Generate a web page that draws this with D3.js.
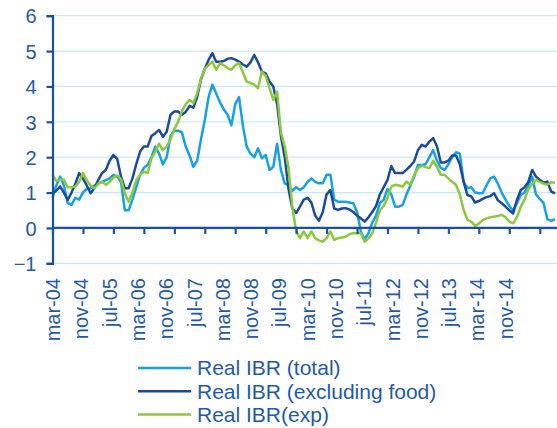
<!DOCTYPE html>
<html>
<head>
<meta charset="utf-8">
<script src="https://cdn.jsdelivr.net/npm/d3@7"></script>
<style>
  body { margin: 0; background: #fff; }
  svg { display: block; font-family: "Liberation Sans", Arial, sans-serif; }
  .grid line { stroke: #cbe8f7; stroke-width: 1.3; }
  .axis path, .axis line { stroke: #1c4f9f; stroke-width: 2.2; }
  .axis text { fill: #1f5aa8; font-size: 20px; }
  .series { fill: none; stroke-width: 2.5; stroke-linejoin: round; }
  .legend text { fill: #1f5aa8; font-size: 21px; }
</style>
</head>
<body>
<svg id="chart" width="557" height="428"></svg>
<script>
// monthly, mar-04 .. mar-15
var startMonth = new Date(2004, 2, 1);

var realTotal = [
  0.85, 1.2, 1.45, 1.2, 0.7, 0.65, 0.85, 0.8, 1.0, 1.1,
  1.12, 1.2, 1.25, 1.3, 1.35, 1.4, 1.5, 1.45, 1.3, 0.5,
  0.5, 0.8, 1.15, 1.5, 1.7, 1.78, 2.0, 2.3, 2.1, 1.8,
  2.0, 2.6, 2.75, 2.75, 2.7, 2.3, 2.05, 1.73, 1.9, 2.5,
  3.05, 3.7, 4.05, 3.8, 3.55, 3.35, 3.2, 2.9, 3.5, 3.7,
  2.9, 2.3, 2.1, 2.0, 2.25, 1.97, 2.06, 1.64, 1.73, 2.38,
  1.64, 1.26, 1.2, 1.05, 1.15, 1.07, 1.15, 1.3, 1.4, 1.3,
  1.26, 1.26, 1.5, 1.5, 0.8, 0.74, 0.74, 0.74, 0.72, 0.7,
  0.45, -0.1, -0.32, -0.15, 0.15, 0.35, 0.7, 0.8, 1.1, 0.95,
  0.6, 0.6, 0.65, 0.95, 1.2, 1.45, 1.78, 1.78, 1.8, 2.0,
  2.2, 1.9, 1.7, 1.64, 1.8, 2.0, 2.14, 2.1, 1.3, 1.12,
  1.15, 1.0, 0.98, 0.98, 1.2, 1.4, 1.45, 1.25, 1.0, 0.8,
  0.62, 0.5, 0.7, 0.93, 1.0, 1.2, 1.45, 0.95, 0.82, 0.7,
  0.25, 0.2, 0.25
];

var realExFood = [
  0.98, 1.05, 1.17, 1.0, 0.79, 1.0, 1.25, 1.55, 1.4, 1.2,
  0.98, 1.12, 1.35, 1.55, 1.64, 1.9, 2.06, 1.95, 1.45, 1.12,
  1.12, 1.4, 1.8, 2.16, 2.3, 2.3, 2.6, 2.68, 2.77, 2.58,
  2.72, 3.2, 3.29, 3.29, 3.2, 3.28, 3.45, 3.4, 3.7, 4.2,
  4.5, 4.75, 4.94, 4.7, 4.7, 4.72, 4.78, 4.8, 4.76, 4.7,
  4.62, 4.56, 4.68, 4.89, 4.68, 4.42, 4.37, 4.14, 4.0, 3.5,
  2.6, 2.0, 1.1, 0.55, 0.42, 0.6, 0.8, 0.85, 0.72, 0.35,
  0.2, 0.45, 0.95, 1.07, 0.55, 0.51, 0.55, 0.56, 0.52, 0.45,
  0.35, 0.27, 0.18, 0.3, 0.45, 0.62, 0.95, 1.15, 1.36, 1.75,
  1.55, 1.55, 1.55, 1.65, 1.75, 1.88, 2.2, 2.35, 2.3, 2.44,
  2.54, 2.3, 1.85, 1.85, 1.9, 2.05, 2.05, 1.8, 1.3, 0.93,
  0.89, 0.72, 0.76, 0.82, 0.87, 0.9, 0.98, 0.78, 0.7, 0.6,
  0.5, 0.41, 0.79, 1.07, 1.15, 1.3, 1.64, 1.45, 1.36, 1.28,
  1.31, 1.03, 0.98
];

var realExp = [
  1.5, 1.33, 1.36, 1.36, 1.15, 1.15, 1.17, 1.3, 1.55, 1.35,
  1.2, 1.12, 1.25, 1.31, 1.22, 1.3, 1.42, 1.48, 1.38, 0.98,
  0.74, 1.0, 1.35, 1.5, 1.59, 1.55, 1.97, 2.15, 2.38, 2.2,
  2.3, 2.5, 2.8, 3.0, 3.3, 3.5, 3.62, 3.53, 3.8, 4.2,
  4.5, 4.6, 4.7, 4.47, 4.66, 4.6, 4.52, 4.47, 4.6, 4.66,
  4.4, 4.14, 4.1, 4.05, 3.95, 4.42, 4.3, 3.95, 3.62, 3.85,
  2.7, 2.3, 1.7, 0.6, -0.1, -0.29, -0.1, -0.29, -0.1, -0.29,
  -0.35, -0.39, -0.29, -0.1, -0.34, -0.29, -0.27, -0.25, -0.18, -0.15,
  -0.15, -0.15, -0.39, -0.3, -0.15, 0.15, 0.5, 0.62, 0.85, 1.17,
  1.22, 1.2, 1.17, 1.31, 1.22, 1.5, 1.69, 1.76, 1.72, 1.69,
  1.9, 1.73, 1.5, 1.5, 1.4, 1.3, 1.22, 0.95, 0.51, 0.23,
  0.18, 0.06, 0.12, 0.22, 0.27, 0.3, 0.32, 0.34, 0.37, 0.3,
  0.18, 0.13, 0.3, 0.6, 0.8, 1.1, 1.24, 1.36, 1.3, 1.25,
  1.22, 1.29, 1.28
];

var tickLabels = ['mar-04', 'nov-04', 'jul-05', 'mar-06', 'nov-06', 'jul-07',
  'mar-08', 'nov-08', 'jul-09', 'mar-10', 'nov-10', 'jul-11', 'mar-12',
  'nov-12', 'jul-13', 'mar-14', 'nov-14'];
var tickEvery = 8;
var yTicks = [-1, 0, 1, 2, 3, 4, 5, 6];

var seriesNames = ['Real IBR (total)', 'Real IBR (excluding food)', 'Real IBR(exp)'];
var seriesColors = ['#16a2e2', '#1a4b9b', '#8cc83c'];
var seriesValues = [realTotal, realExFood, realExp];

var svg = d3.select('#chart');

var x = d3.scaleLinear().domain([0, realTotal.length - 1]).range([52.5, 555]);
var y = d3.scaleLinear().domain([-1, 6]).range([263.3, 15.7]);
var labelScale = d3.scalePoint().domain(tickLabels).range([52.5, 505]);

svg.append('g')
  .classed('grid', true)
  .selectAll('line')
  .data(yTicks.filter(function(v) { return v !== 0; }))
  .enter()
  .append('line')
  .attr('x1', x.range()[0])
  .attr('x2', 557)
  .attr('y1', y)
  .attr('y2', y);

var line = d3.line()
  .x(function(d, i) { return x(i); })
  .y(function(d) { return y(d); });

svg.append('g')
  .selectAll('.series')
  .data(seriesValues)
  .enter()
  .append('path')
  .classed('series', true)
  .attr('stroke', function(d, i) { return seriesColors[i]; })
  .attr('d', line);

// zero line with month tick marks, no labels
var monthTicks = d3.range(0, realTotal.length, tickEvery);
var zeroAxis = svg.append('g')
  .classed('axis', true)
  .attr('transform', 'translate(0,' + y(0) + ')')
  .call(d3.axisBottom(x).tickValues(monthTicks).tickSize(6).tickSizeOuter(0).tickFormat(''));
zeroAxis.select('.domain').attr('d', 'M' + x.range()[0] + ',0H557');

svg.append('g')
  .classed('axis', true)
  .attr('transform', 'translate(' + x.range()[0] + ',0)')
  .call(d3.axisLeft(y).tickValues(yTicks).tickSize(6).tickSizeOuter(6).tickPadding(10).tickFormat(d3.format('d')))
  .selectAll('text')
  .attr('dy', '0.36em');

var labelAxis = svg.append('g')
  .classed('axis', true)
  .attr('transform', 'translate(0,272)')
  .call(d3.axisBottom(labelScale).tickSize(0).tickPadding(0));
labelAxis.select('.domain').remove();
labelAxis.selectAll('text')
  .attr('text-anchor', 'end')
  .attr('transform', 'rotate(-90)')
  .attr('x', -6)
  .attr('y', 0)
  .attr('dy', '0.36em');

var legend = svg.append('g').classed('legend', true);
var legendRows = legend.selectAll('g')
  .data(seriesNames)
  .enter()
  .append('g')
  .attr('transform', function(d, i) { return 'translate(138,' + (368 + i * 23.2) + ')'; });
legendRows.append('line')
  .attr('x1', 0)
  .attr('x2', 53)
  .attr('stroke', function(d, i) { return seriesColors[i]; })
  .attr('stroke-width', 2.5);
legendRows.append('text')
  .attr('x', 59)
  .attr('y', 7.3)
  .text(function(d) { return d; });
</script>
</body>
</html>
